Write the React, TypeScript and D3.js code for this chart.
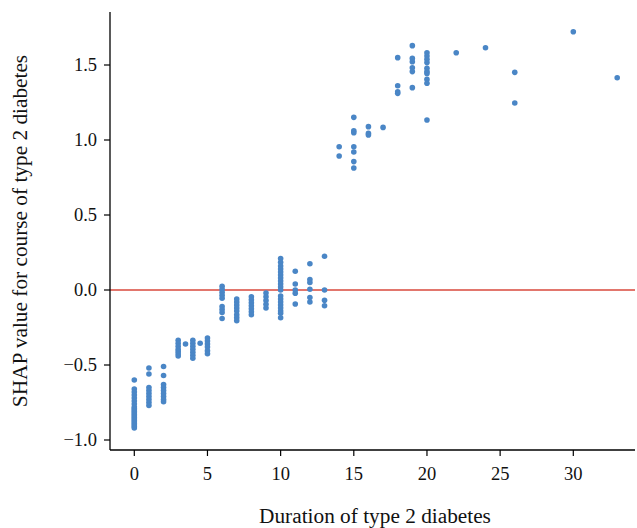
import React from "react";
import * as d3 from "d3";

const duration: number[] = [
  // 0
  0, 0, 0, 0, 0, 0, 0, 0, 0, 0, 0, 0, 0, 0, 0, 0, 0, 0, 0, 0, 0, 0,
  // 1
  1, 1, 1, 1, 1, 1, 1, 1, 1,
  // 2
  2, 2, 2, 2, 2, 2, 2, 2, 2,
  // 3
  3, 3, 3, 3, 3, 3, 3,
  3.5,
  4, 4, 4, 4, 4, 4, 4,
  4.5,
  5, 5, 5, 5, 5, 5,
  // 6
  6, 6, 6, 6, 6, 6, 6, 6, 6,
  7, 7, 7, 7, 7, 7, 7, 7,
  8, 8, 8, 8, 8, 8, 8,
  9, 9, 9, 9, 9,
  10, 10, 10, 10, 10, 10, 10, 10, 10, 10, 10, 10, 10, 10, 10, 10, 10, 10, 10,
  11, 11, 11, 11, 11,
  12, 12, 12, 12, 12, 12,
  13, 13, 13, 13,
  14, 14,
  15, 15, 15, 15, 15, 15, 15,
  16, 16, 16,
  17,
  18, 18, 18, 18,
  19, 19, 19, 19, 19, 19,
  20, 20, 20, 20, 20, 20, 20, 20, 20, 20,
  22,
  24,
  26, 26,
  30,
  33,
];

const shap: number[] = [
  // 0
  -0.6, -0.66, -0.68, -0.7, -0.72, -0.74, -0.76, -0.78, -0.79, -0.8, -0.81, -0.82, -0.83, -0.84, -0.85, -0.86, -0.87, -0.88, -0.89, -0.9, -0.91, -0.92,
  // 1
  -0.52, -0.56, -0.65, -0.67, -0.69, -0.71, -0.73, -0.75, -0.77,
  // 2
  -0.51, -0.57, -0.63, -0.65, -0.67, -0.69, -0.71, -0.73, -0.745,
  // 3
  -0.335, -0.355, -0.375, -0.395, -0.41, -0.425, -0.44,
  -0.36,
  -0.335, -0.355, -0.375, -0.395, -0.415, -0.435, -0.455,
  -0.355,
  -0.32, -0.34, -0.36, -0.38, -0.405, -0.425,
  // 6
  0.025, 0.005, -0.015, -0.035, -0.055, -0.11, -0.13, -0.15, -0.19,
  -0.06, -0.08, -0.1, -0.12, -0.14, -0.165, -0.185, -0.205,
  -0.045, -0.065, -0.085, -0.105, -0.125, -0.145, -0.165,
  -0.02, -0.045, -0.07, -0.095, -0.12,
  0.21, 0.185, 0.16, 0.14, 0.12, 0.1, 0.08, 0.06, 0.04, 0.02, 0.0, -0.04, -0.06, -0.08, -0.1, -0.12, -0.14, -0.155, -0.185,
  0.125, 0.04, 0.0, -0.022, -0.093,
  0.175, 0.07, 0.05, 0.005, -0.05, -0.08,
  0.225, 0.0, -0.068, -0.105,
  0.955, 0.893,
  1.151, 1.062, 1.049, 0.955, 0.92, 0.856, 0.813,
  1.089, 1.044, 1.033,
  1.084,
  1.549, 1.362, 1.322, 1.311,
  1.629, 1.544, 1.522, 1.482, 1.456, 1.349,
  1.582, 1.56, 1.538, 1.516, 1.478, 1.456, 1.444, 1.404, 1.378, 1.133,
  1.582,
  1.615,
  1.451, 1.247,
  1.722,
  1.415,
];

const xTicks = [0, 5, 10, 15, 20, 25, 30];
const yTicks = [-1.0, -0.5, 0.0, 0.5, 1.0, 1.5];
const xTitle = "Duration of type 2 diabetes";
const yTitle = "SHAP value for course of type 2 diabetes";

const W = 637;
const H = 528;
const axisLeft = 110;
const axisRight = 635;
const axisTop = 12;
const axisBottom = 450;
const FONT = "'Liberation Serif', 'Times New Roman', serif";
const DOT = "#4a86c6";
const RED = "#d8493d";

export default function App() {
  const x = d3.scaleLinear().domain([0, 30]).range([134.3, 573.3]);
  const y = d3.scaleLinear().domain([-1, 1.5]).range([440, 65]);
  const fmtY = (v: number) => (v < 0 ? "\u2212" : "") + d3.format(".1f")(Math.abs(v));

  return (
    <svg
      width={W}
      height={H}
      style={{ position: "absolute", left: 0, top: 0, background: "#fff" }}
      fontFamily={FONT}
    >
      <rect x={0} y={0} width={W} height={H} fill="#fff" />
      {/* zero line */}
      <line x1={axisLeft} x2={axisRight} y1={y(0)} y2={y(0)} stroke={RED} strokeWidth={1.3} />
      {/* points */}
      {duration.map((d, i) => (
        <circle key={i} cx={x(d)} cy={y(shap[i])} r={2.8} fill={DOT} />
      ))}
      {/* axes */}
      <line x1={axisLeft} x2={axisLeft} y1={axisTop} y2={axisBottom} stroke="#000" strokeWidth={1.3} />
      <line x1={axisLeft} x2={axisRight} y1={axisBottom} y2={axisBottom} stroke="#000" strokeWidth={1.3} />
      {yTicks.map((t) => (
        <g key={"y" + t}>
          <line x1={axisLeft - 6} x2={axisLeft} y1={y(t)} y2={y(t)} stroke="#000" strokeWidth={1.2} />
          <text x={axisLeft - 13} y={y(t)} dy="0.35em" textAnchor="end" fontSize={18.5} fill="#111">
            {fmtY(t)}
          </text>
        </g>
      ))}
      {xTicks.map((t) => (
        <g key={"x" + t}>
          <line x1={x(t)} x2={x(t)} y1={axisBottom} y2={axisBottom + 6} stroke="#000" strokeWidth={1.2} />
          <text x={x(t)} y={axisBottom + 30} textAnchor="middle" fontSize={18.5} fill="#111">
            {t}
          </text>
        </g>
      ))}
      <text x={375} y={523} textAnchor="middle" fontSize={21.3} fill="#111">
        {xTitle}
      </text>
      <text
        transform={`translate(27,231) rotate(-90)`}
        textAnchor="middle"
        fontSize={21.3}
        fill="#111"
      >
        {yTitle}
      </text>
    </svg>
  );
}
